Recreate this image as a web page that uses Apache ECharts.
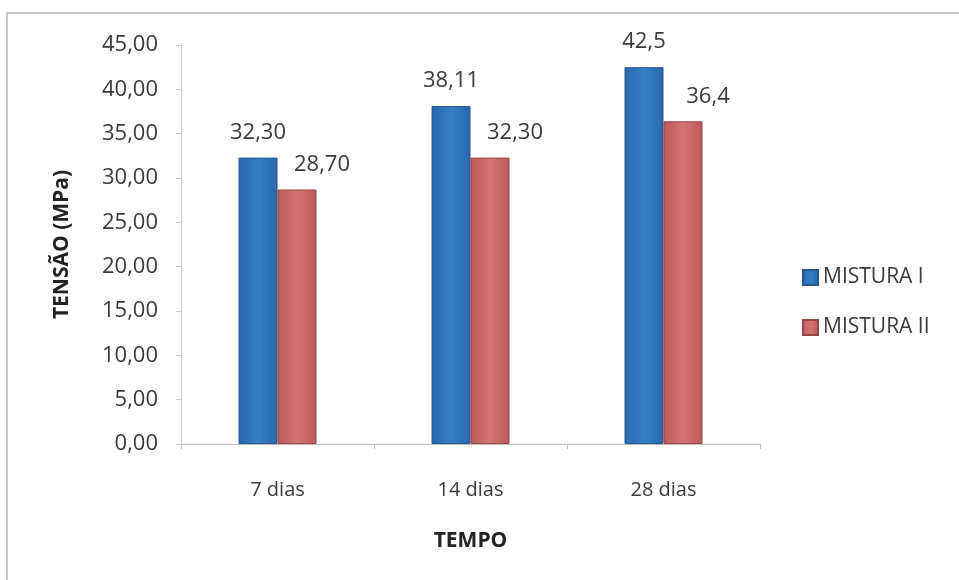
<!DOCTYPE html>
<html>
<head>
<meta charset="utf-8">
<style>
  html, body { margin: 0; padding: 0; background: #ffffff; }
  #chart { width: 959px; height: 580px; }
</style>
<script src="https://cdn.jsdelivr.net/npm/echarts@6/dist/echarts.min.js"></script>
</head>
<body>
<div id="chart"></div>
<script>
// Compressive strength by curing age
const categories = ['7 dias', '14 dias', '28 dias'];
const seriesNames = ['MISTURA I', 'MISTURA II'];
const misturaI = [32.30, 38.11, 42.5];
const misturaII = [28.70, 32.30, 36.4];
// decimals shown in each bar's label
const decimalsI = [2, 2, 1];
const decimalsII = [2, 2, 1];

const FONT = '"Open Sans", "Noto Sans", sans-serif';
const TEXT = '#3a3a3a';

function commaFmt(decimals) {
  return p => p.value.toFixed(decimals[p.dataIndex]).replace('.', ',');
}

function barGradient(edge, mid) {
  return new echarts.graphic.LinearGradient(0, 0, 1, 0, [
    { offset: 0, color: edge },
    { offset: 0.5, color: mid },
    { offset: 1, color: edge }
  ]);
}

const chart = echarts.init(document.getElementById('chart'), null, { renderer: 'canvas' });

chart.setOption({
  animation: false,
  backgroundColor: '#ffffff',
  textStyle: { fontFamily: FONT, color: TEXT },
  grid: { left: 181, right: 199, top: 45, bottom: 136, containLabel: false },
  legend: {
    orient: 'vertical',
    left: 797,
    top: 262,
    itemWidth: 15,
    itemHeight: 15,
    itemGap: 29,
    icon: 'rect',
    textStyle: { fontFamily: FONT, fontSize: 21, color: TEXT },
    data: seriesNames
  },
  xAxis: {
    type: 'category',
    data: categories,
    name: 'TEMPO',
    nameLocation: 'middle',
    nameGap: 87,
    nameTextStyle: { fontFamily: FONT, fontSize: 21, fontWeight: 'bold', color: '#222' },
    axisLine: { lineStyle: { color: '#bdbdbd', width: 1 } },
    axisTick: { show: true, length: 5, lineStyle: { color: '#bdbdbd' } },
    axisLabel: { fontFamily: FONT, fontSize: 20, color: TEXT, margin: 36 }
  },
  yAxis: {
    type: 'value',
    min: 0,
    max: 45,
    interval: 5,
    name: 'TENSÃO (MPa)',
    nameLocation: 'middle',
    nameGap: 108,
    nameRotate: 90,
    nameTextStyle: { fontFamily: FONT, fontSize: 21, fontWeight: 'bold', color: '#222' },
    axisLine: { show: true, lineStyle: { color: '#c8c8c8', width: 1 } },
    axisTick: { show: true, length: 5, lineStyle: { color: '#c8c8c8' } },
    splitLine: { show: false },
    axisLabel: {
      fontFamily: FONT, fontSize: 22, color: TEXT, margin: 23,
      formatter: v => v.toFixed(2).replace('.', ',')
    }
  },
  series: [
    {
      name: seriesNames[0],
      type: 'bar',
      data: misturaI,
      barWidth: 39,
      barGap: '0%',
      itemStyle: {
        color: barGradient('#2a68aa', '#347fc6'),
        borderColor: '#24578f',
        borderWidth: 1
      },
      label: {
        show: true,
        position: 'top',
        distance: 14,
        fontFamily: FONT,
        fontSize: 22,
        color: TEXT,
        formatter: commaFmt(decimalsI)
      }
    },
    {
      name: seriesNames[1],
      type: 'bar',
      data: misturaII,
      barWidth: 39,
      barGap: '0%',
      itemStyle: {
        color: barGradient('#bd5a5c', '#d27374'),
        borderColor: '#9a4446',
        borderWidth: 1
      },
      label: {
        show: true,
        position: 'top',
        distance: 14,
        offset: [25, 0],
        fontFamily: FONT,
        fontSize: 22,
        color: TEXT,
        formatter: commaFmt(decimalsII)
      }
    }
  ],
  graphic: [
    {
      type: 'polyline',
      silent: true,
      shape: { points: [[7, 600], [7, 13], [970, 13]] },
      style: { stroke: '#b4b4b4', lineWidth: 1.5, fill: null }
    }
  ]
});
</script>
</body>
</html>
